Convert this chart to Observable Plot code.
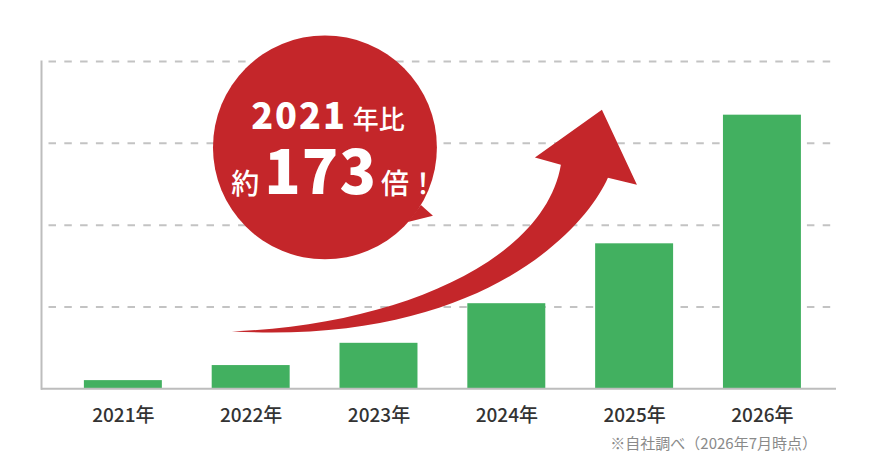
<!DOCTYPE html>
<html><head><meta charset="utf-8">
<script src="https://cdn.jsdelivr.net/npm/d3@7"></script>
<script src="https://cdn.jsdelivr.net/npm/@observablehq/plot@0.6"></script>
<style>
body{margin:0;background:#fff;font-family:"Noto Sans CJK JP","Noto Sans",sans-serif;}
#caption{width:878px;text-align:right;box-sizing:border-box;padding-right:61px;font-size:15px;color:#8a8a8a;line-height:18px;margin-top:2px;}
</style></head><body>
<div id="chart"></div>
<div id="caption">※自社調べ（2026年7月時点）</div>
<script>
// ---- data ----
const years = ["2021年", "2022年", "2023年", "2024年", "2025年", "2026年"];
const values = [2.5, 7.1, 13.9, 26.0, 44.3, 83.6];
const gridTicks = [25, 50, 75, 100];

// annotation geometry in chart units (u: bands from first bar start, v: y value)
const arrowTail = [1.158, 17.37];
const arrowUpper = [[2.473, 19.36], [3.607, 39.27], [3.732, 68.29]];
const arrowHead = [[3.529, 70.49], [4.053, 85.11], [4.327, 62.17], [4.100, 64.31]];
const arrowLower = [[3.920, 48.4], [3.099, 13.24], [1.158, 17.37]];
const bubbleCenter = [1.886, 73.6];
const bubbleRadius = 0.876; // in band steps
const bubblePointer = [[2.637, 56.0], [2.731, 52.7], [2.535, 50.8]];
const bubbleLine1 = [1.910, 79.3];
const bubbleLine2 = [1.958, 59.4];

const RED = "#c4262a";
const GREEN = "#42b060";
const GRID = "#c3c3c3";

const data = years.map((y, i) => ({year: y, value: values[i]}));

function annotation(index, scales, values_, dims) {
  const x0 = scales.x(years[0]);
  const step = scales.x(years[1]) - x0;
  const X = u => x0 + u * step;
  const Y = v => scales.y(v);
  const P = p => [X(p[0]), Y(p[1])];
  const g = d3.create("svg:g");
  // arrow
  const p = d3.path();
  const t = P(arrowTail);
  p.moveTo(...t);
  p.bezierCurveTo(...P(arrowUpper[0]), ...P(arrowUpper[1]), ...P(arrowUpper[2]));
  for (const h of arrowHead) p.lineTo(...P(h));
  p.bezierCurveTo(...P(arrowLower[0]), ...P(arrowLower[1]), ...P(arrowLower[2]));
  p.closePath();
  g.append("path").attr("d", p.toString()).attr("fill", RED);
  // bubble
  const c = P(bubbleCenter);
  g.append("circle").attr("cx", c[0]).attr("cy", c[1]).attr("r", bubbleRadius * step).attr("fill", RED);
  g.append("path").attr("d", "M" + bubblePointer.map(q => P(q).join(",")).join("L") + "Z").attr("fill", RED);
  // texts
  const l1 = P(bubbleLine1);
  const t1 = g.append("text").attr("x", l1[0]).attr("y", l1[1]).attr("text-anchor", "middle")
    .attr("fill", "#fff").style("font-family", '"Noto Sans CJK JP", sans-serif');
  t1.append("tspan").attr("font-size", 36).attr("font-weight", 900).attr("letter-spacing", 2).text("2021");
  t1.append("tspan").attr("font-size", 26).attr("font-weight", 500).attr("dx", 6).text("年比");
  const l2 = P(bubbleLine2);
  const t2 = g.append("text").attr("x", l2[0]).attr("y", l2[1]).attr("text-anchor", "middle")
    .attr("fill", "#fff").style("font-family", '"Noto Sans CJK JP", sans-serif');
  t2.append("tspan").attr("font-size", 28).attr("font-weight", 500).text("約");
  t2.append("tspan").attr("font-size", 60).attr("font-weight", 900).attr("dx", 5).attr("letter-spacing", 1).text("173");
  t2.append("tspan").attr("font-size", 28).attr("font-weight", 500).attr("dx", 4).text("倍！");
  return g.node();
}

const chart = Plot.plot({
  width: 878,
  height: 432,
  marginLeft: 41,
  marginRight: 42,
  marginTop: 61,
  marginBottom: 43.7,
  style: {fontFamily: '"Noto Sans CJK JP", sans-serif', background: "#fff"},
  x: {domain: years, paddingInner: 0.39, paddingOuter: 0.305, align: 0.55, round: false, label: null},
  y: {domain: [0, 100], axis: null},
  marks: [
    Plot.ruleY(gridTicks, {stroke: GRID, strokeWidth: 2, strokeDasharray: "7.5,8.3", strokeDashoffset: 8.3, strokeOpacity: 1}),
    Plot.barY(data, {x: "year", y: "value", fill: GREEN}),
    Plot.ruleY([0], {stroke: "#bdbdbd", strokeWidth: 2}),
    Plot.frame({anchor: "left", stroke: "#bdbdbd", strokeWidth: 2}),
    Plot.axisX({tickSize: 0, tickPadding: 20, fontSize: 19, fill: "#333", fontWeight: 500, label: null}),
    annotation
  ]
});
document.getElementById("chart").appendChild(chart);
</script>
</body></html>
